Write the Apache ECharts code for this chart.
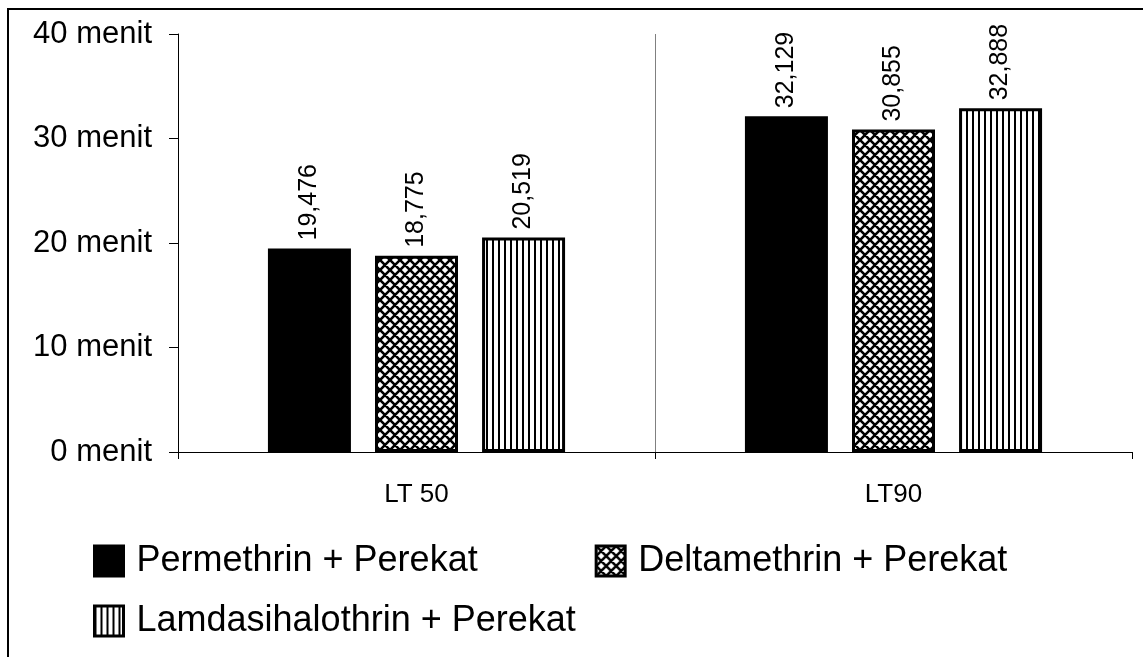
<!DOCTYPE html>
<html><head><meta charset="utf-8">
<script src="https://cdn.jsdelivr.net/npm/echarts@6/dist/echarts.min.js"></script>
<style>
html,body{margin:0;padding:0;background:#fff;overflow:hidden;}
#chart{width:1143px;height:657px;}
#frame{position:absolute;left:7px;top:8px;width:1300px;height:800px;border-left:2px solid #000;border-top:2px solid #000;pointer-events:none;}
</style></head><body>
<div id="chart"></div><div id="frame"></div>
<script>
const categories = ['LT 50', 'LT90'];
const seriesNames = ['Permethrin + Perekat', 'Deltamethrin + Perekat', 'Lamdasihalothrin + Perekat'];
const permethrin = [19.476, 32.129];
const deltamethrin = [18.775, 30.855];
const lamdasihalothrin = [20.519, 32.888];
const yMin = 0, yMax = 40, yStep = 10;

function crossPattern() {
  const c = document.createElement('canvas');
  const p = 10;
  c.width = p; c.height = p;
  const ctx = c.getContext('2d');
  ctx.fillStyle = '#fff'; ctx.fillRect(0, 0, p, p);
  ctx.strokeStyle = '#000'; ctx.lineWidth = 2.6;
  ctx.beginPath();
  [-p, 0, p].forEach(o => {
    ctx.moveTo(o, 0); ctx.lineTo(o + p, p);
    ctx.moveTo(o, p); ctx.lineTo(o + p, 0);
  });
  ctx.stroke();
  return { image: c, repeat: 'repeat' };
}
function vertPattern() {
  const c = document.createElement('canvas');
  c.width = 6; c.height = 6;
  const ctx = c.getContext('2d');
  ctx.fillStyle = '#fff'; ctx.fillRect(0, 0, 6, 6);
  ctx.fillStyle = '#000'; ctx.fillRect(0, 0, 2, 6);
  return { image: c, repeat: 'repeat' };
}

const FONT = "'Liberation Sans', Arial, sans-serif";
const fills = ['#000', crossPattern(), vertPattern()];
const dataSets = [permethrin, deltamethrin, lamdasihalothrin];

const chart = echarts.init(document.getElementById('chart'), null, { renderer: 'canvas' });
chart.setOption({
  animation: false,
  backgroundColor: '#fff',
  textStyle: { fontFamily: FONT, color: '#000' },
  grid: { left: 178, right: 11, top: 34, bottom: 205, containLabel: false },
  legend: [
    {
      data: [seriesNames[0], seriesNames[1]],
      left: 88, top: 538, orient: 'horizontal',
      icon: 'rect', itemWidth: 29, itemHeight: 30, itemGap: 117,
      itemStyle: { borderColor: '#000', borderWidth: 3 },
      textStyle: { fontSize: 36, color: '#000', fontFamily: FONT, padding: [0, 0, 0, 8] }
    },
    {
      data: [seriesNames[2]],
      left: 88, top: 598, orient: 'horizontal',
      icon: 'rect', itemWidth: 29, itemHeight: 30,
      itemStyle: { borderColor: '#000', borderWidth: 3 },
      textStyle: { fontSize: 36, color: '#000', fontFamily: FONT, padding: [0, 0, 0, 8] }
    }
  ],
  xAxis: {
    type: 'category',
    data: categories,
    boundaryGap: true,
    axisLine: { show: true, lineStyle: { color: '#000', width: 1 } },
    axisTick: { show: true, length: 7, lineStyle: { color: '#000' } },
    axisLabel: { fontSize: 26, color: '#000', margin: 30, fontFamily: FONT },
    splitLine: { show: true, showMinLine: false, showMaxLine: false, lineStyle: { color: '#808080', width: 1 } }
  },
  yAxis: {
    type: 'value',
    min: yMin, max: yMax, interval: yStep,
    axisLine: { show: true, lineStyle: { color: '#000', width: 1 } },
    axisTick: { show: true, length: 9, lineStyle: { color: '#000' } },
    axisLabel: { fontSize: 31, color: '#000', margin: 26, fontFamily: FONT, formatter: v => v + ' menit' },
    splitLine: { show: false }
  },
  series: seriesNames.map((name, i) => ({
    name: name,
    type: 'bar',
    data: dataSets[i],
    barWidth: 83,
    barGap: '29%',
    itemStyle: { color: fills[i], borderColor: '#000', borderWidth: 3 },
    label: {
      show: true, position: 'top', rotate: 90, align: 'left', verticalAlign: 'middle',
      distance: 8, fontSize: 25, color: '#000', fontFamily: FONT,
      formatter: p => p.value.toFixed(3).replace('.', ',')
    }
  }))
});
</script>
</body></html>
